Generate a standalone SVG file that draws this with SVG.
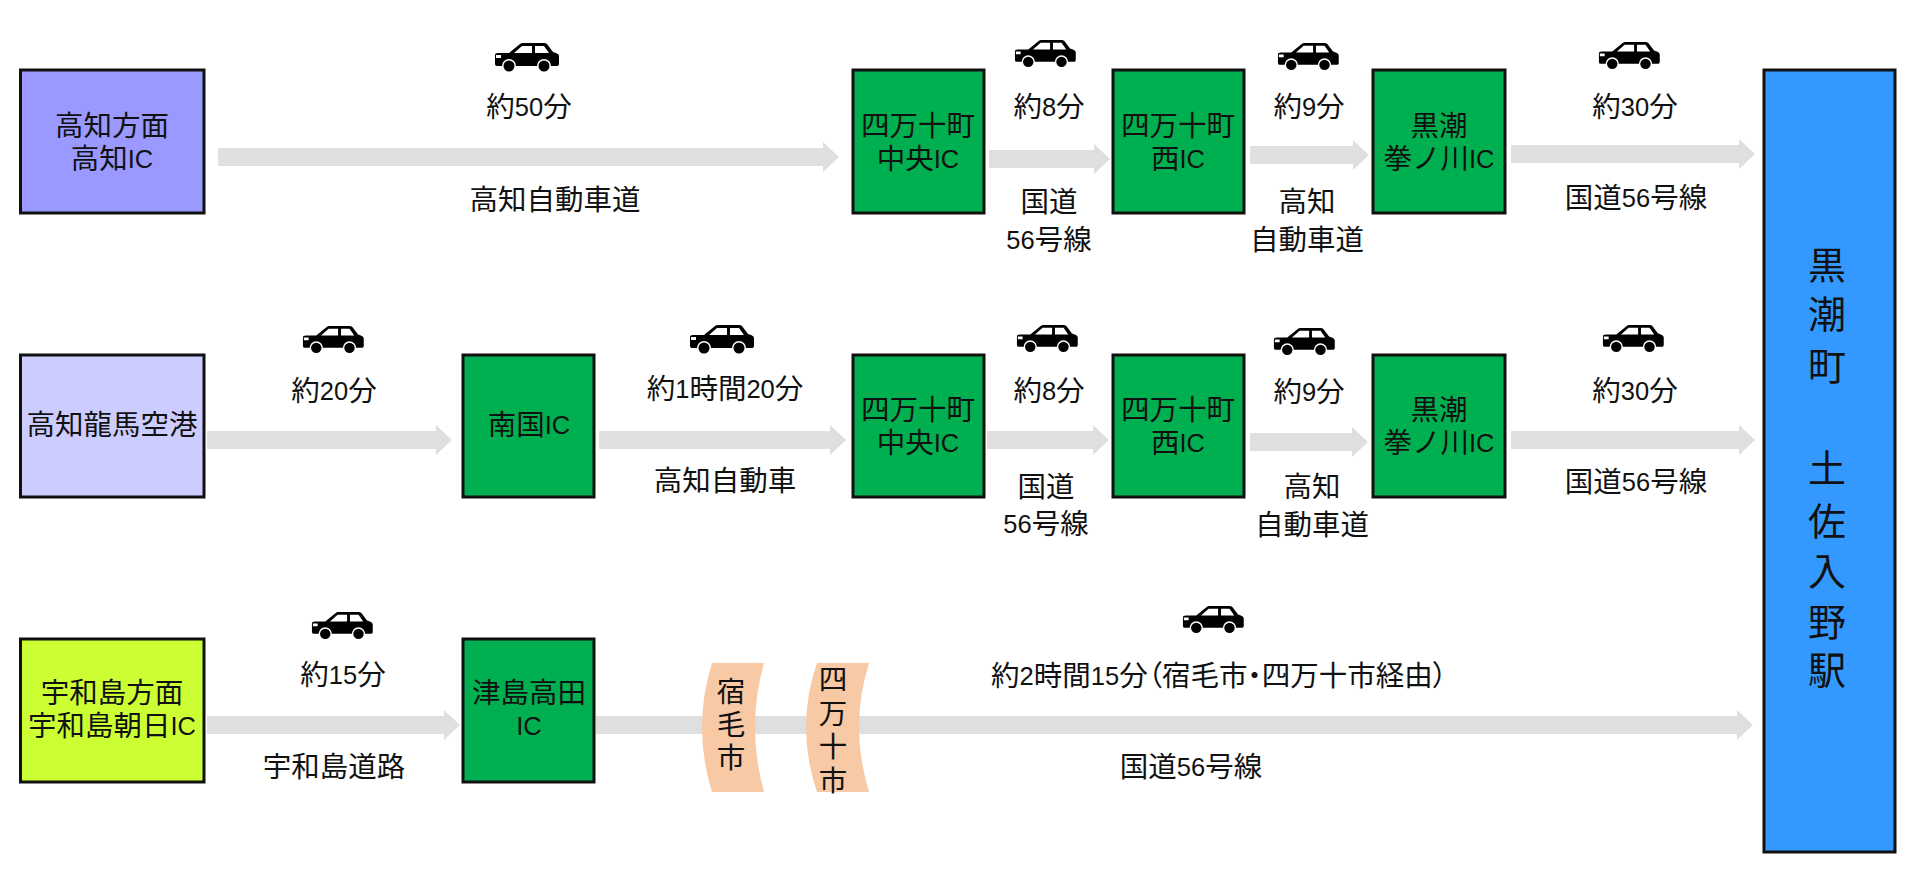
<svg xmlns="http://www.w3.org/2000/svg" width="1920" height="882" viewBox="0 0 1920 882" xml:lang="ja">
<style>
text{font-family:"Liberation Sans","Noto Sans CJK JP",sans-serif;font-size:28.5px;fill:#111;text-anchor:middle;dominant-baseline:central}
.n{font-size:25.5px}
.t{font-feature-settings:"palt"}
.b{stroke:#111;stroke-width:3}
.g{fill:#00b050}
.a{fill:#dfdfdf}
.p{fill:#f7c9a5}
.big{font-size:38px}
</style>
<defs>
<g id="car">
<path fill="#000" d="M1,12 Q1,10 4,10 L15,10 L26,1 Q27,0 29,0 L50,0 Q52,0 53,1 L59,9 L62,10 Q65,11 65,13 L65,21 Q65,23 62,23 L57,23 A7,7 0 0 0 43,23 L22,23 A7,7 0 0 0 8,23 L3,23 Q1,23 1,21 Z"/>
<path fill="#fff" d="M20,10 L28,3 L38,3 L38,10 Z M41,3 L50,3 L55,10 L41,10 Z M2,12 L7,12 L7,15 L2,15 Z"/>
<circle cx="15" cy="23" r="5.5" fill="#000"/><circle cx="50" cy="23" r="5.5" fill="#000"/>
</g>
<use id="cs" href="#car" transform="scale(.95)"/>
</defs>
<rect width="1920" height="882" fill="#fff"/>
<g id="connectors" class="a">
<path d="M218,148V166H823V172L839,157L823,142V148Z"/>
<path d="M989,150V168H1094V174L1110,159L1094,144V150Z"/>
<path d="M1250,146V164H1353V170L1369,155L1353,140V146Z"/>
<path d="M1511,145V163H1739V169L1755,154L1739,139V145Z"/>
<path d="M207,431V449H436V455L452,440L436,425V431Z"/>
<path d="M599,431V449H830V455L846,440L830,425V431Z"/>
<path d="M987,431V449H1093V455L1109,440L1093,425V431Z"/>
<path d="M1250,433V451H1352V457L1368,442L1352,427V433Z"/>
<path d="M1511,431V449H1739V455L1755,440L1739,425V431Z"/>
<path d="M207,716V734H444V740L460,725L444,710V716Z"/>
<path d="M596,716V734H1737V740L1753,725L1737,710V716Z"/>
</g>
<g id="kochi"><rect class="b" x="20.5" y="70" width="183.5" height="143" fill="#9999ff"/><text x="112" y="126">高知方面</text><text x="112" y="159">高知<tspan class="n">IC</tspan></text></g>
<g id="airport"><rect class="b" x="20.5" y="355" width="183.5" height="142" fill="#ccccff"/><text x="112" y="425">高知龍馬空港</text></g>
<g id="uwajima"><rect class="b" x="20.5" y="639" width="183.5" height="143" fill="#ccff33"/><text x="112" y="693">宇和島方面</text><text x="112" y="726">宇和島朝日<tspan class="n">IC</tspan></text></g>
<g id="shimanto-chuo-1"><rect class="b g" x="853" y="70" width="131" height="143"/><text x="918" y="126">四万十町</text><text x="918" y="159">中央<tspan class="n">IC</tspan></text></g>
<g id="shimanto-nishi-1"><rect class="b g" x="1113" y="70" width="131" height="143"/><text x="1178" y="126">四万十町</text><text x="1178" y="159">西<tspan class="n">IC</tspan></text></g>
<g id="kuroshio-1"><rect class="b g" x="1373" y="70" width="132" height="143"/><text x="1439" y="126">黒潮</text><text x="1439" y="159">拳ノ川<tspan class="n">IC</tspan></text></g>
<g id="nankoku"><rect class="b g" x="463" y="355" width="131" height="142"/><text x="529" y="425">南国<tspan class="n">IC</tspan></text></g>
<g id="shimanto-chuo-2"><rect class="b g" x="853" y="355" width="131" height="142"/><text x="918" y="410">四万十町</text><text x="918" y="443">中央<tspan class="n">IC</tspan></text></g>
<g id="shimanto-nishi-2"><rect class="b g" x="1113" y="355" width="131" height="142"/><text x="1178" y="410">四万十町</text><text x="1178" y="443">西<tspan class="n">IC</tspan></text></g>
<g id="kuroshio-2"><rect class="b g" x="1373" y="355" width="132" height="142"/><text x="1439" y="410">黒潮</text><text x="1439" y="443">拳ノ川<tspan class="n">IC</tspan></text></g>
<g id="tsushima"><rect class="b g" x="463" y="639" width="131" height="143"/><text x="529" y="693">津島高田</text><text x="529" y="726"><tspan class="n">IC</tspan></text></g>
<g id="station"><rect class="b" x="1764" y="70" width="131" height="782" fill="#3399ff"/>
<text class="big" x="1827" y="266">黒</text><text class="big" x="1827" y="315">潮</text><text class="big" x="1827" y="367">町</text><text class="big" x="1827" y="469">土</text><text class="big" x="1827" y="522">佐</text><text class="big" x="1827" y="572">入</text><text class="big" x="1827" y="623">野</text><text class="big" x="1827" y="671">駅</text></g>
<g id="sukumo"><path class="p" d="M712,663H764Q746,727 764,792H712Q692,727 712,663Z"/><text x="731" y="692">宿</text><text x="731" y="725">毛</text><text x="731" y="758">市</text></g>
<g id="shimanto"><path class="p" d="M817,663H869Q849,727 869,792H817Q795,727 817,663Z"/><text x="833" y="680">四</text><text x="833" y="714">万</text><text x="833" y="747">十</text><text x="833" y="781">市</text></g>
<g id="cars">
<use href="#car" x="494" y="43"/><use href="#cs" x="1014" y="40"/><use href="#cs" x="1277" y="43"/><use href="#cs" x="1598" y="42"/>
<use href="#cs" x="302" y="326"/><use href="#car" x="689" y="325"/><use href="#cs" x="1016" y="325"/><use href="#cs" x="1273" y="328"/><use href="#cs" x="1602" y="325"/>
<use href="#cs" x="311" y="612"/><use href="#cs" x="1182" y="606"/>
</g>
<g id="labels">
<text x="529" y="107">約<tspan class="n">50</tspan>分</text><text x="555" y="200">高知自動車道</text><text x="1049" y="107">約<tspan class="n">8</tspan>分</text><text x="1049" y="202">国道</text><text x="1049" y="240"><tspan class="n">56</tspan>号線</text><text x="1309" y="107">約<tspan class="n">9</tspan>分</text><text x="1307" y="202">高知</text><text x="1307" y="240">自動車道</text><text x="1635" y="107">約<tspan class="n">30</tspan>分</text><text x="1636" y="198">国道<tspan class="n">56</tspan>号線</text>
<text x="334" y="391">約<tspan class="n">20</tspan>分</text><text x="725" y="389">約<tspan class="n">1</tspan>時間<tspan class="n">20</tspan>分</text><text x="725" y="481">高知自動車</text><text x="1049" y="391">約<tspan class="n">8</tspan>分</text><text x="1046" y="487">国道</text><text x="1046" y="524"><tspan class="n">56</tspan>号線</text><text x="1309" y="392">約<tspan class="n">9</tspan>分</text><text x="1312" y="487">高知</text><text x="1312" y="525">自動車道</text><text x="1635" y="391">約<tspan class="n">30</tspan>分</text><text x="1636" y="482">国道<tspan class="n">56</tspan>号線</text>
<text x="343" y="675">約<tspan class="n">15</tspan>分</text><text x="334" y="767">宇和島道路</text><text x="1219" y="676">約<tspan class="n">2</tspan>時間<tspan class="n">15</tspan>分<tspan class="t">（</tspan>宿毛市<tspan class="t">・</tspan>四万十市経由<tspan class="t">）</tspan></text><text x="1191" y="767">国道<tspan class="n">56</tspan>号線</text>
</g>
</svg>
